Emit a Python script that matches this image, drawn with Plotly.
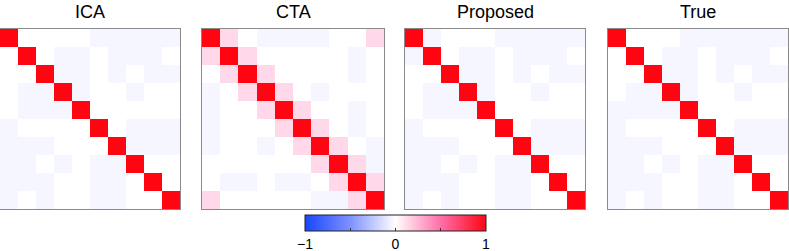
import plotly.graph_objects as go

# cell value levels
L = -0.04   # faint lavender
P = 0.13    # light pink
O = 0.0     # white
D = 1.0     # diagonal

titles = ["ICA", "CTA", "Proposed", "True"]

ica = [
    [D, O, O, O, O, L, L, L, L, L],
    [O, D, O, L, L, O, L, L, L, O],
    [O, O, D, L, L, O, L, O, L, L],
    [O, L, L, D, L, O, O, L, O, O],
    [O, L, L, L, D, O, O, O, O, O],
    [L, O, O, O, O, D, O, L, L, L],
    [L, L, L, O, O, O, D, L, L, L],
    [L, L, O, L, O, L, L, D, O, O],
    [L, L, L, O, O, L, L, O, D, O],
    [L, O, L, O, O, L, L, O, O, D],
]

cta = [
    [D, P, O, L, L, L, L, O, O, P],
    [P, D, P, O, O, O, O, O, L, O],
    [O, P, D, P, O, O, O, O, L, O],
    [L, O, P, D, P, O, L, O, O, O],
    [L, O, O, P, D, P, O, O, L, O],
    [L, O, O, O, P, D, P, O, L, O],
    [L, O, O, L, O, P, D, P, O, L],
    [O, O, O, O, O, O, P, D, P, L],
    [O, L, L, O, L, L, O, P, D, P],
    [P, O, O, O, O, O, L, L, P, D],
]

proposed = [
    [D, L, O, O, O, L, L, L, L, L],
    [L, D, O, L, L, O, L, L, L, O],
    [O, O, D, L, L, O, L, O, L, L],
    [O, L, L, D, L, O, O, L, O, O],
    [O, L, L, L, D, O, O, O, O, O],
    [L, O, O, O, O, D, O, L, L, L],
    [L, L, L, O, O, O, D, L, L, L],
    [L, L, O, L, O, L, L, D, O, O],
    [L, L, L, O, O, L, L, O, D, O],
    [L, O, L, O, O, L, L, O, O, D],
]

true_m = [
    [D, O, O, O, L, L, L, L, L, L],
    [O, D, O, L, L, O, L, L, L, O],
    [O, O, D, L, L, O, L, O, L, L],
    [O, L, L, D, L, O, O, L, O, O],
    [L, L, L, L, D, O, O, O, O, O],
    [L, O, O, O, O, D, O, L, L, L],
    [L, L, L, O, O, O, D, L, L, L],
    [L, L, O, L, O, L, L, D, O, O],
    [L, L, L, O, O, L, L, O, D, O],
    [L, O, L, O, O, L, L, O, O, D],
]

matrices = [ica, cta, proposed, true_m]

cb_tickvals = [-1, -0.5, 0, 0.5, 1]
cb_ticktext = ["\u22121", "", "0", "", "1"]

colorscale = [
    [0.0, "rgb(25,70,255)"],
    [0.25, "rgb(125,145,255)"],
    [0.5, "rgb(255,255,255)"],
    [0.75, "rgb(255,110,170)"],
    [1.0, "rgb(255,5,18)"],
]

W, H = 789, 251
top, bottom = 29, 209
panels_px = [(0, 180), (202, 384), (405, 585), (608, 788)]

fig = go.Figure()
for i, (m, t) in enumerate(zip(matrices, titles)):
    xa = "x" if i == 0 else f"x{i+1}"
    ya = "y" if i == 0 else f"y{i+1}"
    fig.add_trace(go.Heatmap(
        z=m, xaxis=xa, yaxis=ya, zmin=-1, zmax=1,
        colorscale=colorscale, showscale=(i == 0),
        xgap=0, ygap=0, hoverinfo="skip",
        colorbar=dict(
            orientation="h", lenmode="pixels", len=181,
            thickness=16, x=395.5 / W, xanchor="center",
            y=-6 / (bottom - top), yanchor="top", ypad=0, xpad=0,
            outlinewidth=1, outlinecolor="#222",
            tickvals=cb_tickvals, ticktext=cb_ticktext,
            ticks="inside", ticklen=3, tickcolor="#333",
            tickfont=dict(family="Liberation Sans, Arial", size=14, color="black"),
        ) if i == 0 else None,
    ))

layout = dict(
    width=W, height=H,
    margin=dict(l=0, r=0, t=top, b=H - bottom, autoexpand=False),
    paper_bgcolor="white", plot_bgcolor="white",
    showlegend=False,
)
annotations = []
for i, ((x0, x1), t) in enumerate(zip(panels_px, titles)):
    sfx = "" if i == 0 else str(i + 1)
    ax = dict(domain=[x0 / W, x1 / W], showgrid=False, zeroline=False,
              showticklabels=False, ticks="", showline=True, mirror=True,
              linecolor="#8a8a8a", linewidth=1, range=[-0.5, 9.5],
              anchor="y" + sfx)
    ay = dict(domain=[0, 1], showgrid=False, zeroline=False,
              showticklabels=False, ticks="", showline=True, mirror=True,
              linecolor="#8a8a8a", linewidth=1, range=[9.5, -0.5],
              anchor="x" + sfx)
    layout["xaxis" + sfx] = ax
    layout["yaxis" + sfx] = ay
    annotations.append(dict(
        text=t, x=(x0 + x1) / 2 / W, xref="paper", xanchor="center",
        y=1 + (29 - 12) / (bottom - top), yref="paper", yanchor="middle",
        showarrow=False,
        font=dict(family="Liberation Sans, Arial", size=18, color="black"),
    ))
layout["annotations"] = annotations
fig.update_layout(**layout)

fig.write_html(
    "out.html",
    config={"displayModeBar": False},
    post_script="document.body.style.margin='0px';document.body.style.overflow='hidden';",
)
